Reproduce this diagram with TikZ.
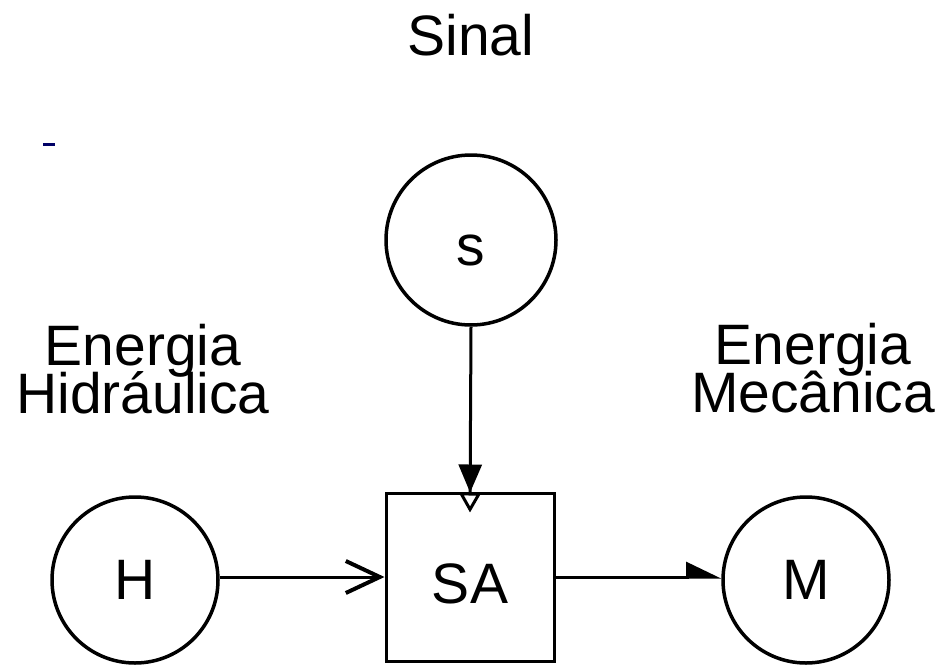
\documentclass[tikz,border=0pt]{standalone}
\usepackage{fontspec}
\setmainfont{Liberation Sans}
\usetikzlibrary{arrows.meta}
\newcommand\mytightlines{\fontsize{57}{47.5}\selectfont\lineskiplimit=-100pt\relax}
\begin{document}
\begin{tikzpicture}[x=1pt,y=1pt,
  every node/.style={font=\fontsize{57}{68}\selectfont},
  circ/.style={circle,draw,line width=3.5pt,minimum size=166pt,inner sep=0pt},
  boxnode/.style={rectangle,draw,line width=3pt,minimum width=168pt,minimum height=168pt,inner sep=0pt},
  lbl/.style={anchor=base,inner sep=0pt},
  twoline/.style={anchor=base,inner sep=0pt,align=center,font=\mytightlines},
  conn/.style={line width=3pt}]
\useasboundingbox (0,0) rectangle (945,-664);
\fill[white] (0,0) rectangle (945,-664);
% nodes
\node[circ,minimum size=170pt,text height=50pt,text depth=0pt] (S) at (471,-240) {s};
\node[circ,text height=41pt,text depth=3pt] (H) at (135,-580) {H};
\node[circ,text height=41pt,text depth=3pt] (M) at (806,-580) {M};
\node[boxnode,text height=52pt,text depth=0pt] (SA) at (470,-577) {SA};
% labels
\node[lbl] (sinal) at (471,-55) {Sinal};
\node[twoline] (eh) at (143,-413) {Energia\\Hidráulica};
\node[twoline] (em) at (813,-412) {Energia\\Mecânica};
\coordinate (dashA) at (43,-144);
\coordinate (dashB) at (55,-144);
\draw[line width=3pt,color=black!60!blue] (dashA) -- (dashB);
% connectors
\draw[conn,-{Triangle[length=28pt,width=23pt] Triangle[open,length=20pt,width=22pt]}]
  (S.south) -- ([yshift=-21pt]SA.north);
\draw[conn,-{Straight Barb[length=34pt,width=32pt,line width=4pt]}] (SA.west -| H.east) -- (SA.west);
\draw[conn,-{Triangle[left,length=32pt,width=30pt]}] (SA.east) -- (SA.east -| M.west);
\end{tikzpicture}
\end{document}
